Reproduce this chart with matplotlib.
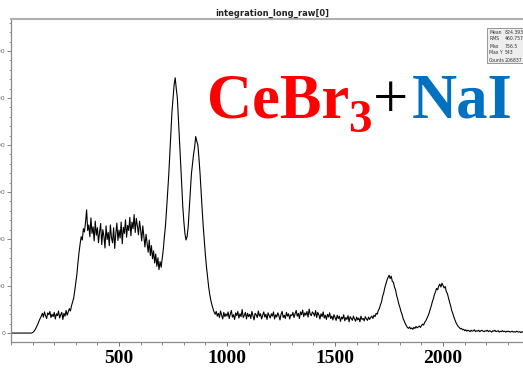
import numpy as np
import matplotlib
matplotlib.use("Agg")
import matplotlib.pyplot as plt
from matplotlib.ticker import MultipleLocator
from matplotlib.patches import Rectangle

# channel bins (5 units wide), one row of counts per 100 channels
channel = np.arange(0, 2400, 5)
counts = [
    0, 0, 0, 0, 0, 0, 0, 0, 0, 0, 0, 0, 0, 0, 0, 0, 0, 0, 0, 0,
    1, 3, 6, 10, 15, 20, 26, 31, 36, 42, 34, 45, 37, 31, 43, 39, 46, 33, 40, 35,
    44, 30, 41, 37, 47, 32, 39, 44, 29, 42, 36, 48, 38, 45, 52, 47, 58, 66, 74, 90,
    108, 125, 150, 172, 190, 205, 198, 222, 215, 236, 262, 218, 230, 205, 245, 212, 226, 196, 238, 208,
    224, 192, 215, 233, 188, 220, 206, 181, 228, 199, 214, 186, 230, 203, 192, 224, 180, 211, 234, 197,
    219, 202, 236, 190, 225, 212, 241, 204, 229, 218, 246, 207, 236, 222, 252, 214, 244, 228, 209, 238,
    220, 196, 228, 205, 183, 210, 190, 172, 198, 165, 186, 158, 175, 149, 168, 142, 160, 135, 152, 140,
    160, 178, 205, 228, 262, 300, 335, 380, 428, 470, 498, 528, 543, 520, 500, 455, 410, 362, 318, 270,
    238, 212, 198, 205, 225, 262, 300, 338, 360, 380, 395, 418, 408, 400, 372, 340, 300, 262, 226, 195,
    165, 140, 118, 98, 82, 70, 60, 52, 45, 40, 46, 36, 42, 33, 47, 38, 30, 44, 35, 41,
    36, 45, 31, 40, 48, 34, 39, 29, 43, 37, 46, 32, 41, 35, 50, 33, 38, 44, 30, 42,
    35, 40, 31, 46, 37, 28, 42, 39, 33, 47, 36, 41, 30, 38, 45, 34, 40, 29, 43, 37,
    32, 41, 36, 45, 30, 39, 34, 43, 37, 28, 40, 46, 33, 38, 31, 44, 36, 41, 30, 39,
    37, 44, 33, 41, 48, 36, 42, 31, 45, 39, 49, 35, 43, 38, 46, 34, 51, 40, 37, 45,
    42, 36, 48, 33, 44, 39, 30, 41, 35, 45, 32, 38, 29, 40, 34, 43, 31, 36, 28, 39,
    33, 27, 38, 31, 36, 25, 34, 30, 39, 26, 33, 29, 37, 24, 35, 31, 27, 36, 30, 25,
    34, 28, 32, 24, 36, 29, 31, 26, 35, 30, 27, 34, 29, 33, 36, 31, 38, 35, 42, 40,
    48, 52, 60, 66, 78, 85, 96, 104, 112, 118, 123, 116, 121, 110, 108, 98, 92, 80, 72, 62,
    55, 46, 40, 31, 26, 20, 16, 12, 10, 13, 9, 11, 8, 12, 10, 14, 11, 13, 15, 12,
    16, 19, 17, 23, 26, 31, 36, 42, 50, 57, 66, 73, 82, 88, 95, 92, 100, 104, 98, 106,
    101, 96, 99, 88, 84, 75, 66, 58, 48, 42, 34, 28, 22, 18, 14, 12, 9, 10, 7, 8,
    5, 7, 4, 6, 5, 3, 6, 4, 5, 7, 3, 5, 4, 6, 3, 5, 6, 4, 3, 5,
    4, 6, 3, 5, 4, 2, 5, 4, 6, 3, 4, 5, 2, 4, 3, 5, 3, 4, 2, 4,
    3, 4, 2, 3, 4, 2, 3, 2, 4, 3, 2, 3, 1, 3, 2, 3, 2, 3, 2, 2,
]

stat_names = ["Mean", "RMS", "Max", "Max Y", "Counts"]
stat_values = ["824.393", "460.757", "756.5", "543", "206837"]

W, H = 523, 368
fig = plt.figure(figsize=(W / 100, H / 100), dpi=100)
ax = fig.add_axes([11 / W, 26 / H, 1.0, (342 - 19) / H])

ax.plot(channel, counts, color="black", lw=0.8)
ax.set_xlim(0, 2370 * (W / 512))
ax.set_ylim(-19, 668)

ax.spines["right"].set_visible(False)
for side in ["left", "bottom"]:
    ax.spines[side].set_color("#8a8a8a")
    ax.spines[side].set_linewidth(0.9)
ax.spines["top"].set_linewidth(1.5)
ax.spines["top"].set_color("#b0b0b0")

ax.xaxis.set_minor_locator(MultipleLocator(100))
ax.yaxis.set_major_locator(MultipleLocator(100))
ax.yaxis.set_minor_locator(MultipleLocator(20))
ax.set_xticks([500, 1000, 1500, 2000])
ax.set_xticklabels(["500", "1000", "1500", "2000"],
                   fontfamily="Liberation Serif", fontweight="bold", fontsize=14)
ax.tick_params(axis="x", which="major", direction="out", length=3, width=0.7,
               color="#707070", pad=3)
ax.tick_params(axis="x", which="minor", direction="out", length=2.5, width=0.6,
               color="#707070")
ax.tick_params(axis="y", which="major", direction="out", length=3, width=0.6,
               color="#707070", labelsize=4.5, labelcolor="#666666", pad=1.2)
ax.tick_params(axis="y", which="minor", direction="out", length=1.5, width=0.5,
               color="#707070")

# histogram title
fig.text(272 / W, 1 - 13 / H, "integration_long_raw[0]", ha="center", va="center",
         fontsize=6, fontweight="bold", color="#222222", family="DejaVu Sans")

# statistics box
box = Rectangle((487 / W, 1 - 63 / H), 50 / W, 35 / H, transform=fig.transFigure,
                facecolor="#eeeeee", edgecolor="#888888", lw=0.6)
fig.add_artist(box)
for i, (name, val) in enumerate(zip(stat_names, stat_values)):
    y = 1 - (32 + 7 * i) / H
    fig.text(489 / W, y, name, fontsize=3.3, va="center", color="#333333")
    fig.text(505 / W, y, val, fontsize=3.3, va="center", color="#333333")

# detector label
serif = "Liberation Serif"
base = 1 - 118 / H
fig.text(207 / W, base, "CeBr", color="#ff0000", fontsize=45, fontweight="bold",
         family=serif, va="baseline", ha="left")
fig.text(348 / W, 1 - 132 / H, "3", color="#ff0000", fontsize=34, fontweight="bold",
         family=serif, va="baseline", ha="left")
fig.text(373 / W, base, "+", color="black", fontsize=45, family=serif,
         va="baseline", ha="left")
fig.text(412 / W, base, "NaI", color="#0070c0", fontsize=45, fontweight="bold",
         family=serif, va="baseline", ha="left")

fig.savefig("out.png", dpi=100)
